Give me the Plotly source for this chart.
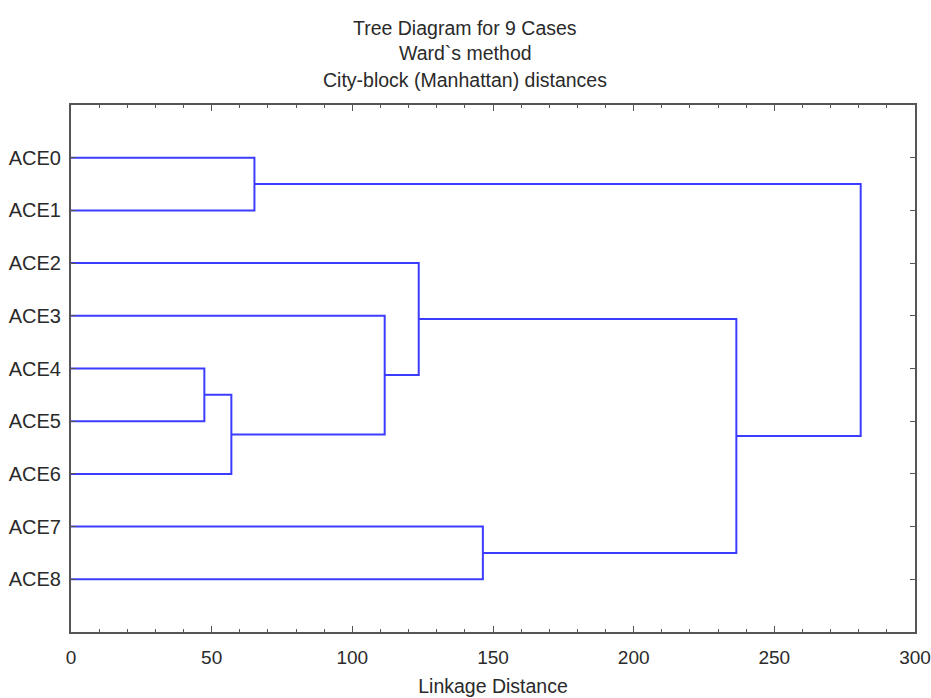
import plotly.graph_objects as go

labels = ["ACE0", "ACE1", "ACE2", "ACE3", "ACE4", "ACE5", "ACE6", "ACE7", "ACE8"]
# merges: (child_a, child_b, linkage distance); indices >= 9 are earlier clusters
merge_a = [4, 9, 3, 2, 0, 7, 12, 13]
merge_b = [5, 6, 10, 11, 1, 8, 14, 15]
merge_h = [47.4, 57.0, 111.5, 123.6, 65.2, 146.4, 236.5, 280.7]
x_ticks = [0, 50, 100, 150, 200, 250, 300]

n = len(labels)
pos_x = {i: 0.0 for i in range(n)}
pos_y = {i: float(i) for i in range(n)}
xs, ys = [], []
for k, (a, b, h) in enumerate(zip(merge_a, merge_b, merge_h)):
    node = n + k
    xs += [pos_x[a], h, h, pos_x[b], None]
    ys += [pos_y[a], pos_y[a], pos_y[b], pos_y[b], None]
    pos_x[node] = h
    pos_y[node] = (pos_y[a] + pos_y[b]) / 2

fig = go.Figure()
fig.add_trace(go.Scatter(x=xs, y=ys, mode="lines",
                         line=dict(color="#3C3CFF", width=2),
                         hoverinfo="skip", showlegend=False))

W, H = 931, 698
L, R, T, B = 71, 16, 105, 66
font = "Liberation Sans, Arial, sans-serif"
axis_col = "#555555"
txt_col = "#2a2a2a"
fig.update_layout(
    width=W, height=H,
    margin=dict(l=L, r=R, t=T, b=B, autoexpand=False),
    paper_bgcolor="white", plot_bgcolor="white",
    font=dict(family=font, size=19, color=txt_col),
    showlegend=False,
)
fig.update_xaxes(
    range=[0, 300], tickvals=x_ticks, ticktext=[str(v) for v in x_ticks],
    showgrid=False, zeroline=False, automargin=False,
    showline=True, linecolor=axis_col, linewidth=2, mirror="allticks",
    ticks="inside", ticklen=6, tickwidth=1, tickcolor=axis_col,
    minor=dict(dtick=10, ticks="inside", ticklen=3, tickcolor=axis_col, showgrid=False),
    tickfont=dict(size=19),
    ticklabelstandoff=7,
    title=dict(text="Linkage Distance", font=dict(size=19.5), standoff=13),
)
fig.update_yaxes(
    range=[n, -1], tickvals=list(range(n)), ticktext=labels,
    showgrid=False, zeroline=False, automargin=False,
    showline=True, linecolor=axis_col, linewidth=2, mirror="allticks",
    ticks="inside", ticklen=5, tickwidth=1, tickcolor=axis_col,
    tickfont=dict(size=20),
    ticklabelstandoff=4,
)

pw = W - L - R
ph = H - T - B
titles = ["Tree Diagram for 9 Cases", "Ward`s method", "City-block (Manhattan) distances"]
title_y = [28, 53, 80]
for t, yy in zip(titles, title_y):
    fig.add_annotation(text=t, xref="paper", yref="paper",
                       x=(465 - L) / pw, y=1 + (T - yy) / ph,
                       xanchor="center", yanchor="middle", showarrow=False,
                       font=dict(size=19.5, family=font, color=txt_col))

fig.write_html("out.html",
               config={"displayModeBar": False},
               post_script="document.body.style.margin='0';document.body.style.overflow='hidden';")
